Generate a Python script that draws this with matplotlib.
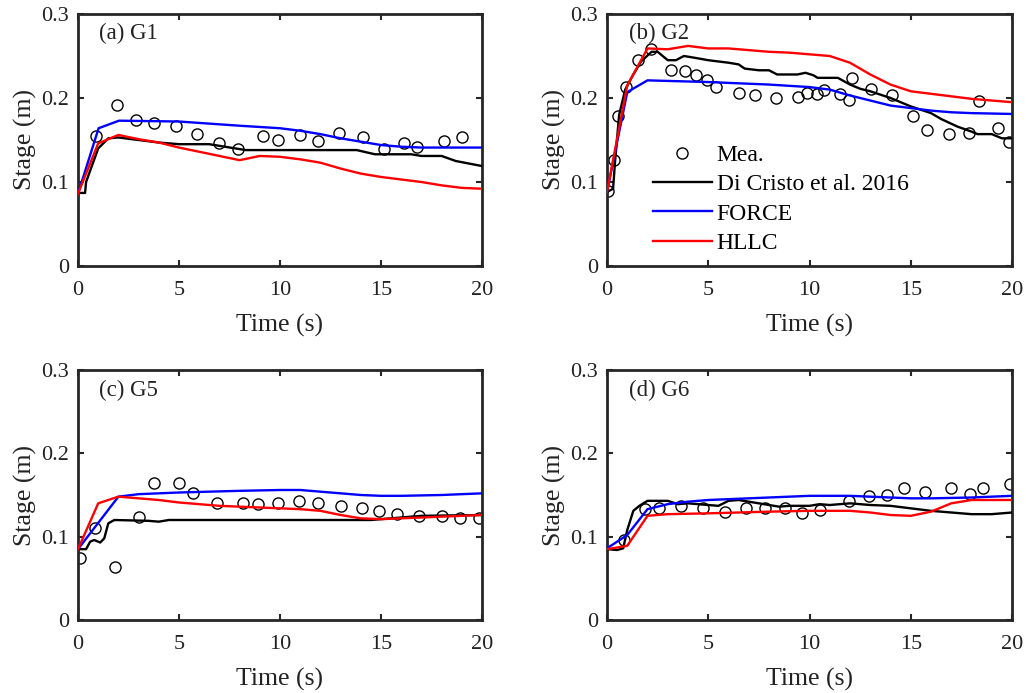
import matplotlib
matplotlib.use("Agg")
import matplotlib.pyplot as plt
import numpy as np

plt.rcParams['font.family'] = ['Liberation Serif', 'DejaVu Serif']
plt.rcParams['mathtext.fontset'] = 'stix'

# ---------------- Data ----------------
# Panel (a) G1
a_mea_t = [0.87, 1.95, 2.85, 3.75, 4.85, 5.87, 6.96, 7.92, 9.16, 9.92, 11.0, 11.9, 12.94, 14.09, 15.13, 16.14, 16.77, 18.12, 19.01]
a_mea_v = [0.155, 0.192, 0.174, 0.170, 0.167, 0.157, 0.147, 0.139, 0.155, 0.150, 0.156, 0.149, 0.158, 0.153, 0.139, 0.147, 0.142, 0.149, 0.153]
a_dc_t = [0, 0.35, 0.4, 1.0, 1.5, 2.0, 3.0, 4.0, 5.0, 6.5, 8.3, 13.8, 14.7, 16.5, 17.0, 18.0, 18.7, 20.0]
a_dc_v = [0.087, 0.087, 0.100, 0.140, 0.152, 0.153, 0.150, 0.147, 0.145, 0.145, 0.138, 0.138, 0.133, 0.133, 0.131, 0.131, 0.125, 0.119]
a_fo_t = [0, 1.02, 2.03, 5, 8, 10, 11, 12, 13, 14, 15, 16, 17, 20]
a_fo_v = [0.086, 0.164, 0.173, 0.172, 0.167, 0.164, 0.161, 0.157, 0.152, 0.148, 0.144, 0.142, 0.141, 0.141]
a_hl_t = [0, 1, 2, 3, 4, 5, 6, 7, 8, 9, 10, 11, 12, 13, 14, 15, 16, 17, 18, 19, 20]
a_hl_v = [0.086, 0.146, 0.156, 0.151, 0.147, 0.141, 0.136, 0.131, 0.126, 0.131, 0.130, 0.127, 0.123, 0.116, 0.110, 0.106, 0.103, 0.100, 0.096, 0.093, 0.092]

# Panel (b) G2
b_mea_t = [0.05, 0.35, 0.53, 0.92, 1.55, 2.19, 3.18, 3.84, 4.38, 4.94, 5.40, 6.52, 7.31, 8.37, 9.41, 9.88, 10.35, 10.72, 11.5, 11.93, 12.09, 13.03, 14.07, 15.12, 15.78, 16.89, 17.87, 18.37, 19.29, 19.85]
b_mea_v = [0.089, 0.126, 0.178, 0.213, 0.245, 0.258, 0.233, 0.232, 0.227, 0.222, 0.213, 0.206, 0.203, 0.200, 0.201, 0.206, 0.205, 0.209, 0.205, 0.198, 0.224, 0.211, 0.203, 0.178, 0.162, 0.157, 0.158, 0.197, 0.164, 0.148]
b_dc_t = [0, 0.3, 0.4, 0.6, 0.9, 1.3, 1.7, 2.2, 2.5, 3.0, 3.4, 3.8, 4.3, 5.0, 6.0, 6.5, 6.8, 7.5, 8.0, 8.4, 9.4, 9.8, 10.2, 10.4, 11.4, 12.0, 12.5, 13.0, 14.0, 15.0, 16.0, 16.5, 17.3, 18.0, 18.3, 19.0, 19.5, 20.0]
b_dc_v = [0.088, 0.092, 0.125, 0.180, 0.210, 0.228, 0.244, 0.255, 0.255, 0.245, 0.245, 0.250, 0.248, 0.245, 0.242, 0.240, 0.235, 0.233, 0.233, 0.228, 0.228, 0.230, 0.227, 0.224, 0.224, 0.216, 0.211, 0.208, 0.200, 0.190, 0.182, 0.175, 0.166, 0.160, 0.157, 0.157, 0.152, 0.152]
b_fo_t = [0, 1, 2, 5, 8, 10, 11, 12, 13, 14, 15, 16, 17, 18, 20]
b_fo_v = [0.088, 0.207, 0.221, 0.219, 0.216, 0.213, 0.210, 0.203, 0.197, 0.191, 0.188, 0.185, 0.183, 0.182, 0.181]
b_hl_t = [0, 1, 2, 3, 4, 5, 6, 7, 8, 9, 10, 11, 12, 13, 14, 15, 16, 17, 18, 19, 20]
b_hl_v = [0.088, 0.215, 0.259, 0.258, 0.262, 0.259, 0.259, 0.257, 0.255, 0.254, 0.252, 0.250, 0.242, 0.228, 0.216, 0.208, 0.205, 0.202, 0.199, 0.197, 0.195]

# Panel (c) G5
c_mea_t = [0.1, 0.83, 1.83, 3.0, 3.76, 5.0, 5.69, 6.86, 8.15, 8.91, 9.9, 10.92, 11.9, 13.04, 14.08, 14.9, 15.79, 16.9, 18.0, 18.9, 19.85]
c_mea_v = [0.075, 0.111, 0.064, 0.124, 0.165, 0.165, 0.152, 0.140, 0.140, 0.139, 0.140, 0.143, 0.140, 0.137, 0.135, 0.131, 0.127, 0.125, 0.125, 0.123, 0.122]
c_dc_t = [0, 0.4, 0.6, 0.8, 1.1, 1.3, 1.5, 1.8, 3.5, 4.0, 4.5, 14.5, 15.5, 17.0, 20.0]
c_dc_v = [0.085, 0.085, 0.094, 0.096, 0.093, 0.098, 0.116, 0.120, 0.119, 0.118, 0.120, 0.120, 0.122, 0.125, 0.126]
c_fo_t = [0, 2, 3, 5, 8, 10, 11, 12, 13, 14, 15, 16, 18, 20]
c_fo_v = [0.085, 0.148, 0.151, 0.153, 0.155, 0.156, 0.156, 0.154, 0.152, 0.150, 0.149, 0.149, 0.150, 0.152]
c_hl_t = [0, 1, 2, 3, 4, 5, 6, 7, 8, 9, 10, 11, 12, 13, 14, 15, 16, 17, 18, 19, 20]
c_hl_v = [0.085, 0.140, 0.148, 0.146, 0.144, 0.141, 0.139, 0.137, 0.136, 0.135, 0.134, 0.133, 0.131, 0.126, 0.122, 0.121, 0.122, 0.123, 0.124, 0.125, 0.126]

# Panel (d) G6
d_mea_t = [0.83, 1.89, 2.55, 3.64, 4.73, 5.84, 6.87, 7.81, 8.79, 9.62, 10.53, 11.94, 12.95, 13.81, 14.69, 15.71, 16.99, 17.91, 18.59, 19.92]
d_mea_v = [0.096, 0.133, 0.135, 0.137, 0.134, 0.130, 0.134, 0.135, 0.134, 0.128, 0.132, 0.143, 0.149, 0.150, 0.159, 0.154, 0.159, 0.151, 0.158, 0.163]
d_dc_t = [0, 0.5, 0.8, 1.0, 1.3, 1.6, 2.0, 3.0, 3.5, 4.0, 5.0, 5.5, 6.0, 6.5, 7.0, 7.5, 8.0, 8.5, 9.0, 10.0, 10.5, 11.0, 12.0, 13.0, 14.0, 15.0, 16.0, 17.0, 18.0, 19.0, 20.0]
d_dc_v = [0.085, 0.084, 0.086, 0.108, 0.131, 0.137, 0.143, 0.143, 0.139, 0.140, 0.138, 0.137, 0.143, 0.144, 0.142, 0.140, 0.138, 0.136, 0.137, 0.137, 0.139, 0.138, 0.140, 0.138, 0.137, 0.134, 0.131, 0.129, 0.127, 0.127, 0.129]
d_fo_t = [0, 1, 2, 3, 4, 5, 6, 7, 8, 10, 12, 14, 15, 16, 18, 20]
d_fo_v = [0.086, 0.102, 0.133, 0.139, 0.142, 0.144, 0.145, 0.146, 0.147, 0.149, 0.149, 0.147, 0.146, 0.146, 0.147, 0.149]
d_hl_t = [0, 1, 2, 3, 5, 8, 10, 12, 13, 14, 15, 16, 17, 18, 20]
d_hl_v = [0.085, 0.089, 0.125, 0.127, 0.128, 0.130, 0.131, 0.131, 0.129, 0.126, 0.125, 0.130, 0.140, 0.144, 0.144]

panel_titles = ['(a) G1', '(b) G2', '(c) G5', '(d) G6']
series_labels = ['Mea.', 'Di Cristo et al. 2016', 'FORCE', 'HLLC']
x_ticks = [0, 5, 10, 15, 20]
y_ticks = [0, 0.1, 0.2, 0.3]
y_ticklabels = ['0', '0.1', '0.2', '0.3']

panels = [
    (a_mea_t, a_mea_v, a_dc_t, a_dc_v, a_fo_t, a_fo_v, a_hl_t, a_hl_v),
    (b_mea_t, b_mea_v, b_dc_t, b_dc_v, b_fo_t, b_fo_v, b_hl_t, b_hl_v),
    (c_mea_t, c_mea_v, c_dc_t, c_dc_v, c_fo_t, c_fo_v, c_hl_t, c_hl_v),
    (d_mea_t, d_mea_v, d_dc_t, d_dc_v, d_fo_t, d_fo_v, d_hl_t, d_hl_v),
]

# ---------------- Figure ----------------
W, H = 1026, 693
fig = plt.figure(figsize=(W / 100, H / 100), dpi=100)

# axes boxes in pixels: (left, top, right, bottom)
boxes = [(78, 14, 482, 266), (607, 14, 1012, 266),
         (78, 370, 482, 620), (607, 370, 1012, 620)]
title_pos = [(0.052, 0.922), (0.054, 0.922), (0.052, 0.92), (0.054, 0.92)]

axc = '#262626'
for i, (box, data) in enumerate(zip(boxes, panels)):
    l, t, r, b = box
    ax = fig.add_axes([l / W, 1 - b / H, (r - l) / W, (b - t) / H])
    mt, mv, dt, dv, ft, fv, ht, hv = data
    ax.plot(mt, mv, 'o', ms=8, mfc='none', mec='black', mew=1.0, label=series_labels[0], zorder=2)
    ax.plot(dt, dv, '-', color='black', lw=1.7, label=series_labels[1], zorder=3)
    ax.plot(ft, fv, '-', color='#0000ff', lw=1.7, label=series_labels[2], zorder=3)
    ax.plot(ht, hv, '-', color='#ff0000', lw=1.7, label=series_labels[3], zorder=4)
    ax.set_xlim(0, 20)
    ax.set_ylim(0, 0.3)
    ax.set_xticks(x_ticks)
    ax.set_yticks(y_ticks)
    ax.set_yticklabels(y_ticklabels)
    ax.tick_params(direction='in', length=4, width=1.5, top=True, right=True,
                   labelsize=16, colors=axc, labelcolor='#222222')
    ax.tick_params(axis='x', pad=11)
    ax.tick_params(axis='y', pad=6.5)
    for s in ax.spines.values():
        s.set_linewidth(2.0)
        s.set_color(axc)
    ax.set_xlabel('Time (s)', fontsize=18.5, color='#222222', labelpad=10)
    ax.set_ylabel('Stage (m)', fontsize=18.5, color='#222222', labelpad=3)
    ax.text(title_pos[i][0], title_pos[i][1], panel_titles[i], transform=ax.transAxes,
            fontsize=16.5, color='#222222', va='center', ha='left')
    if i == 1:
        ax.legend(loc='upper left', bbox_to_anchor=(0.09, 0.52), frameon=False,
                  fontsize=17, handlelength=2.5, handletextpad=0.2,
                  labelspacing=0.33, borderaxespad=0.0)

fig.savefig('out.png', dpi=100)
